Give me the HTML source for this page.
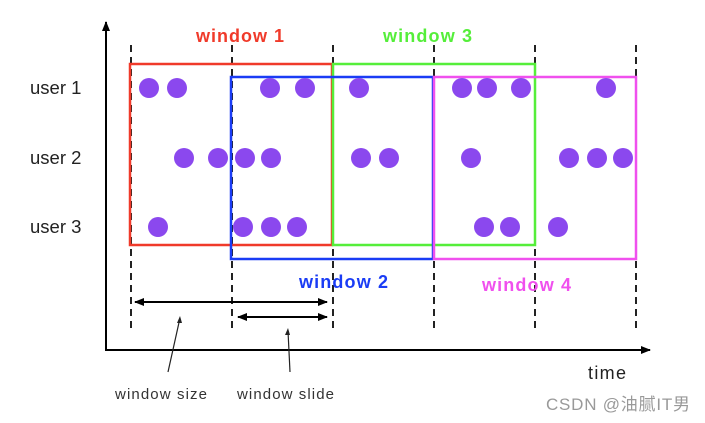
<!DOCTYPE html>
<html><head><meta charset="utf-8"><style>
html,body{margin:0;padding:0;background:#fff;}
svg{display:block;}
text{font-family:"Liberation Sans","Noto Sans CJK SC",sans-serif;}
</style></head><body>
<svg width="705" height="423" viewBox="0 0 705 423" xmlns="http://www.w3.org/2000/svg">
<defs>
<marker id="ah" markerWidth="10" markerHeight="8" refX="9" refY="4" orient="auto" markerUnits="userSpaceOnUse"><path d="M0,0 L10,4 L0,8 z" fill="#000"/></marker>
<marker id="ahs" markerWidth="10" markerHeight="8" refX="1" refY="4" orient="auto" markerUnits="userSpaceOnUse"><path d="M10,0 L0,4 L10,8 z" fill="#000"/></marker>
</defs>
<g stroke="#222" stroke-width="2" stroke-dasharray="7,5">
<line x1="131" y1="45" x2="131" y2="330"/><line x1="232" y1="45" x2="232" y2="330"/><line x1="333" y1="45" x2="333" y2="330"/><line x1="434" y1="45" x2="434" y2="330"/><line x1="535" y1="45" x2="535" y2="330"/><line x1="636" y1="45" x2="636" y2="330"/>
</g>
<g fill="none" stroke-width="2.5">
<rect x="130" y="64" width="202" height="181" stroke="#f03a2a"/>
<rect x="333" y="64" width="202" height="181" stroke="#55ee3a"/>
<rect x="231" y="77" width="202" height="182" stroke="#1a3cf5"/>
<rect x="434" y="77" width="202" height="182" stroke="#f050ee"/>
</g>
<g fill="#8b48ee">
<circle cx="149" cy="88" r="10"/><circle cx="177" cy="88" r="10"/><circle cx="270" cy="88" r="10"/><circle cx="305" cy="88" r="10"/><circle cx="359" cy="88" r="10"/><circle cx="462" cy="88" r="10"/><circle cx="487" cy="88" r="10"/><circle cx="521" cy="88" r="10"/><circle cx="606" cy="88" r="10"/>
<circle cx="184" cy="158" r="10"/><circle cx="218" cy="158" r="10"/><circle cx="245" cy="158" r="10"/><circle cx="271" cy="158" r="10"/><circle cx="361" cy="158" r="10"/><circle cx="389" cy="158" r="10"/><circle cx="471" cy="158" r="10"/><circle cx="569" cy="158" r="10"/><circle cx="597" cy="158" r="10"/><circle cx="623" cy="158" r="10"/>
<circle cx="158" cy="227" r="10"/><circle cx="243" cy="227" r="10"/><circle cx="271" cy="227" r="10"/><circle cx="297" cy="227" r="10"/><circle cx="484" cy="227" r="10"/><circle cx="510" cy="227" r="10"/><circle cx="558" cy="227" r="10"/>
</g>
<line x1="106" y1="350" x2="106" y2="22" stroke="#000" stroke-width="2" marker-end="url(#ah)"/>
<line x1="105" y1="350" x2="650" y2="350" stroke="#000" stroke-width="2" marker-end="url(#ah)"/>
<line x1="135" y1="302" x2="327" y2="302" stroke="#000" stroke-width="2" marker-start="url(#ahs)" marker-end="url(#ah)"/>
<line x1="238" y1="317" x2="327" y2="317" stroke="#000" stroke-width="2" marker-start="url(#ahs)" marker-end="url(#ah)"/>
<line x1="168" y1="372" x2="180" y2="318" stroke="#222" stroke-width="1.2"/>
<path d="M180,316 l-3,7 l5,0 z" fill="#222"/>
<line x1="290" y1="372" x2="288" y2="331" stroke="#222" stroke-width="1.2"/>
<path d="M288,328 l-3,7 l5,0 z" fill="#222"/>
<g font-size="18.5" fill="#222">
<text x="30" y="94">user 1</text><text x="30" y="164">user 2</text><text x="30" y="233">user 3</text>
</g>
<g font-size="18" font-weight="bold" letter-spacing="1">
<text x="196" y="42" fill="#f03a2a" textLength="89">window 1</text>
<text x="383" y="42" fill="#55ee3a" textLength="90">window 3</text>
<text x="299" y="288" fill="#1a3cf5" textLength="90">window 2</text>
<text x="482" y="291" fill="#f050ee" textLength="90">window 4</text>
</g>
<text x="115" y="399" font-size="15" fill="#333" textLength="92">window size</text>
<text x="237" y="399" font-size="15" fill="#333" textLength="97">window slide</text>
<text x="588" y="379" font-size="18" fill="#222" textLength="38">time</text>
<text x="546" y="410" font-size="17" fill="#999" textLength="144">CSDN @油腻IT男</text>
</svg>
</body></html>
